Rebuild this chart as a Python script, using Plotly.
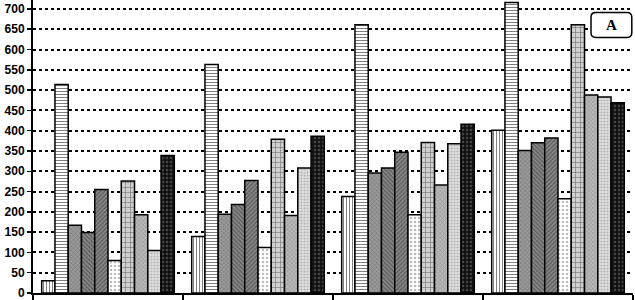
import plotly.graph_objects as go

categories = ["1", "2", "3", "4"]
s1 = [30, 139, 238, 401]
s2 = [514, 563, 661, 716]
s3 = [167, 194, 296, 351]
s4 = [149, 218, 308, 370]
s5 = [255, 277, 347, 382]
s6 = [80, 112, 193, 232]
s7 = [276, 379, 371, 661]
s8 = [193, 191, 266, 488]
s9 = [105, 308, 368, 483]
s10 = [339, 386, 416, 469]
series = [s1, s2, s3, s4, s5, s6, s7, s8, s9, s10]
y_ticks = list(range(0, 701, 50))

patterns = [
    dict(shape="|", bgcolor="white", fgcolor="black", size=3, solidity=0.35),
    dict(shape="-", bgcolor="white", fgcolor="black", size=3, solidity=0.35),
    dict(shape="x", bgcolor="#9a9a9a", fgcolor="#444444", size=3, solidity=0.3),
    dict(shape="\\", bgcolor="#8a8a8a", fgcolor="#222222", size=3, solidity=0.4),
    dict(shape="/", bgcolor="#8a8a8a", fgcolor="#222222", size=3, solidity=0.4),
    dict(shape=".", bgcolor="white", fgcolor="#777777", size=4, solidity=0.3),
    dict(shape="+", bgcolor="#d0d0d0", fgcolor="#222222", size=5, solidity=0.25),
    dict(shape="x", bgcolor="#b8b8b8", fgcolor="#666666", size=3, solidity=0.3),
    dict(shape=".", bgcolor="#e0e0e0", fgcolor="#888888", size=3, solidity=0.4),
    dict(shape=".", bgcolor="#111111", fgcolor="#777777", size=4, solidity=0.3),
]

fig = go.Figure()
for vals, pat in zip(series, patterns):
    fig.add_trace(go.Bar(
        x=categories, y=vals,
        marker=dict(color=pat["bgcolor"], pattern=pat,
                    line=dict(color="black", width=1.5)),
        showlegend=False, hoverinfo="skip",
    ))

fig.update_layout(
    width=635, height=300,
    margin=dict(l=33, r=2, t=0, b=7),
    paper_bgcolor="white", plot_bgcolor="white",
    barmode="group", bargap=0.116, bargroupgap=0,
    font=dict(family="Liberation Sans, Arial", size=12, color="black"),
    hovermode=False,
)
fig.update_yaxes(
    range=[0, 722], tickvals=y_ticks,
    tickfont=dict(family="Liberation Sans, Arial", size=12, color="black", weight="bold"),
    ticklabeloverflow="allow",
    showgrid=True, gridcolor="black", gridwidth=2, griddash="3px,3px",
    showline=True, linecolor="black", linewidth=2,
    ticks="outside", ticklen=4, tickwidth=1.5, tickcolor="black",
    zeroline=False,
)
fig.update_xaxes(
    showticklabels=False, tickson="boundaries",
    ticks="outside", ticklen=5, tickwidth=1.5, tickcolor="black",
    showline=True, linecolor="black", linewidth=2,
    showgrid=False,
)

# rounded box label "A"
x0, x1, y0, y1 = 0.930, 0.998, 0.872, 0.957
rx, ry = 0.008, 0.016
path = (f"M {x0+rx},{y0} L {x1-rx},{y0} Q {x1},{y0} {x1},{y0+ry} "
        f"L {x1},{y1-ry} Q {x1},{y1} {x1-rx},{y1} L {x0+rx},{y1} "
        f"Q {x0},{y1} {x0},{y1-ry} L {x0},{y0+ry} Q {x0},{y0} {x0+rx},{y0} Z")
fig.add_shape(type="path", path=path, xref="paper", yref="paper",
              line=dict(color="black", width=1.5), fillcolor="white", layer="above")
fig.add_annotation(x=(x0 + x1) / 2, y=(y0 + y1) / 2, xref="paper", yref="paper",
                   xanchor="center", yanchor="middle",
                   text="<b>A</b>", showarrow=False,
                   font=dict(family="Liberation Serif, Times New Roman", size=15, color="black"))

fig.write_html("out.html", config={"displayModeBar": False, "staticPlot": True},
               post_script="document.body.style.margin='0';document.body.style.padding='0';")
